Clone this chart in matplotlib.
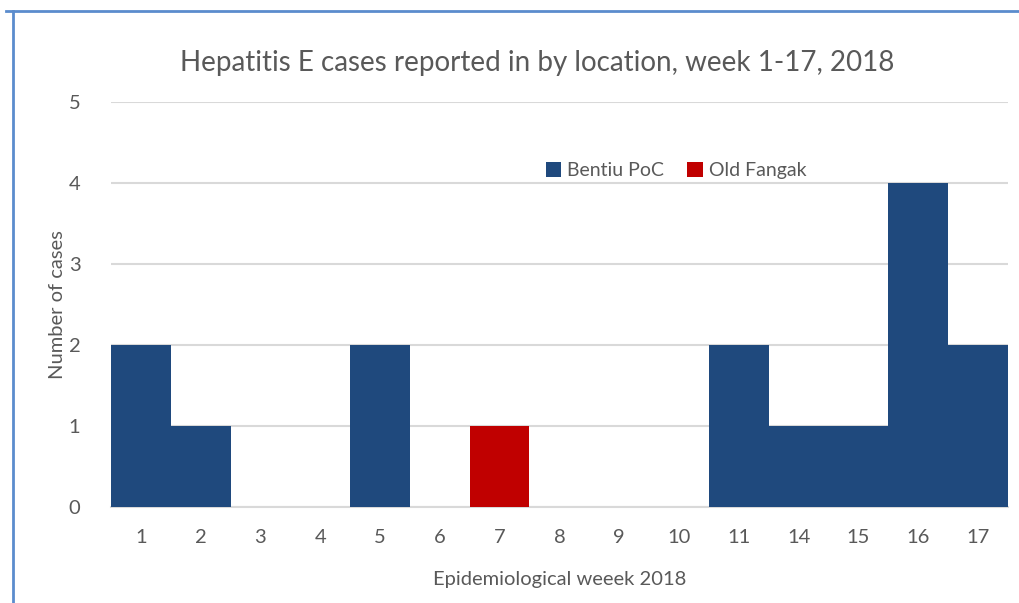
import numpy as np
import matplotlib
matplotlib.use("Agg")
import matplotlib.pyplot as plt
from matplotlib.lines import Line2D

plt.rcParams['font.family'] = ['Lato', 'DejaVu Sans']

# epidemiological weeks shown on the axis (12 and 13 are not in the chart)
weeks = ['1', '2', '3', '4', '5', '6', '7', '8', '9', '10', '11', '14', '15', '16', '17']
bentiu_poc = [2, 1, 0, 0, 2, 0, 0, 0, 0, 0, 2, 1, 1, 4, 2]
old_fangak = [0, 0, 0, 0, 0, 0, 1, 0, 0, 0, 0, 0, 0, 0, 0]

blue = '#1f497d'
red = '#c00000'
grey_text = '#595959'

fig = plt.figure(figsize=(10.2, 6.03), dpi=100)
ax = fig.add_axes([0.1088, 0.1592, 0.8794, 0.6716])

x = np.arange(len(weeks))
ax.bar(x, bentiu_poc, width=1.0, color=blue, label='Bentiu PoC', zorder=3)
ax.bar(x, old_fangak, width=0.98, color=red, label='Old Fangak', zorder=3)

ax.set_xlim(-0.5, len(weeks) - 0.5)
ax.set_ylim(0, 5)
ax.set_yticks(range(0, 6))
ax.set_xticks(x)
ax.set_xticklabels(weeks)
ax.yaxis.grid(True, color='#d9d9d9', linewidth=1.5, zorder=0)
ax.tick_params(axis='both', length=0, labelsize=14.5, labelcolor=grey_text)
ax.tick_params(axis='x', pad=16)
ax.tick_params(axis='y', pad=22)
for s in ['top', 'right', 'left']:
    ax.spines[s].set_visible(False)
ax.spines['bottom'].set_color('#d9d9d9')
ax.spines['bottom'].set_linewidth(1.5)

ax.set_xlabel('Epidemiological weeek 2018', fontsize=14.5, color=grey_text, labelpad=18)
ax.set_ylabel('Number of cases', fontsize=14.5, color=grey_text, labelpad=2)

fig.text(0.527, 0.895, 'Hepatitis E cases reported in by location, week 1-17, 2018',
         ha='center', va='center', fontsize=20, color=grey_text)

leg = ax.legend(loc='center', bbox_to_anchor=(0.63, 0.83), ncol=2, frameon=False,
                fontsize=14, handlelength=0.8, handleheight=0.8, handletextpad=0.3,
                columnspacing=1.2)
for t in leg.get_texts():
    t.set_color(grey_text)

# outer frame lines like the chart box
fig.add_artist(Line2D([0.006, 1.0], [0.982, 0.982], color='#5b8ccd', linewidth=2))
fig.add_artist(Line2D([0.013, 0.013], [0.0, 0.982], color='#5b8ccd', linewidth=2))

fig.savefig('out.png', dpi=100)
